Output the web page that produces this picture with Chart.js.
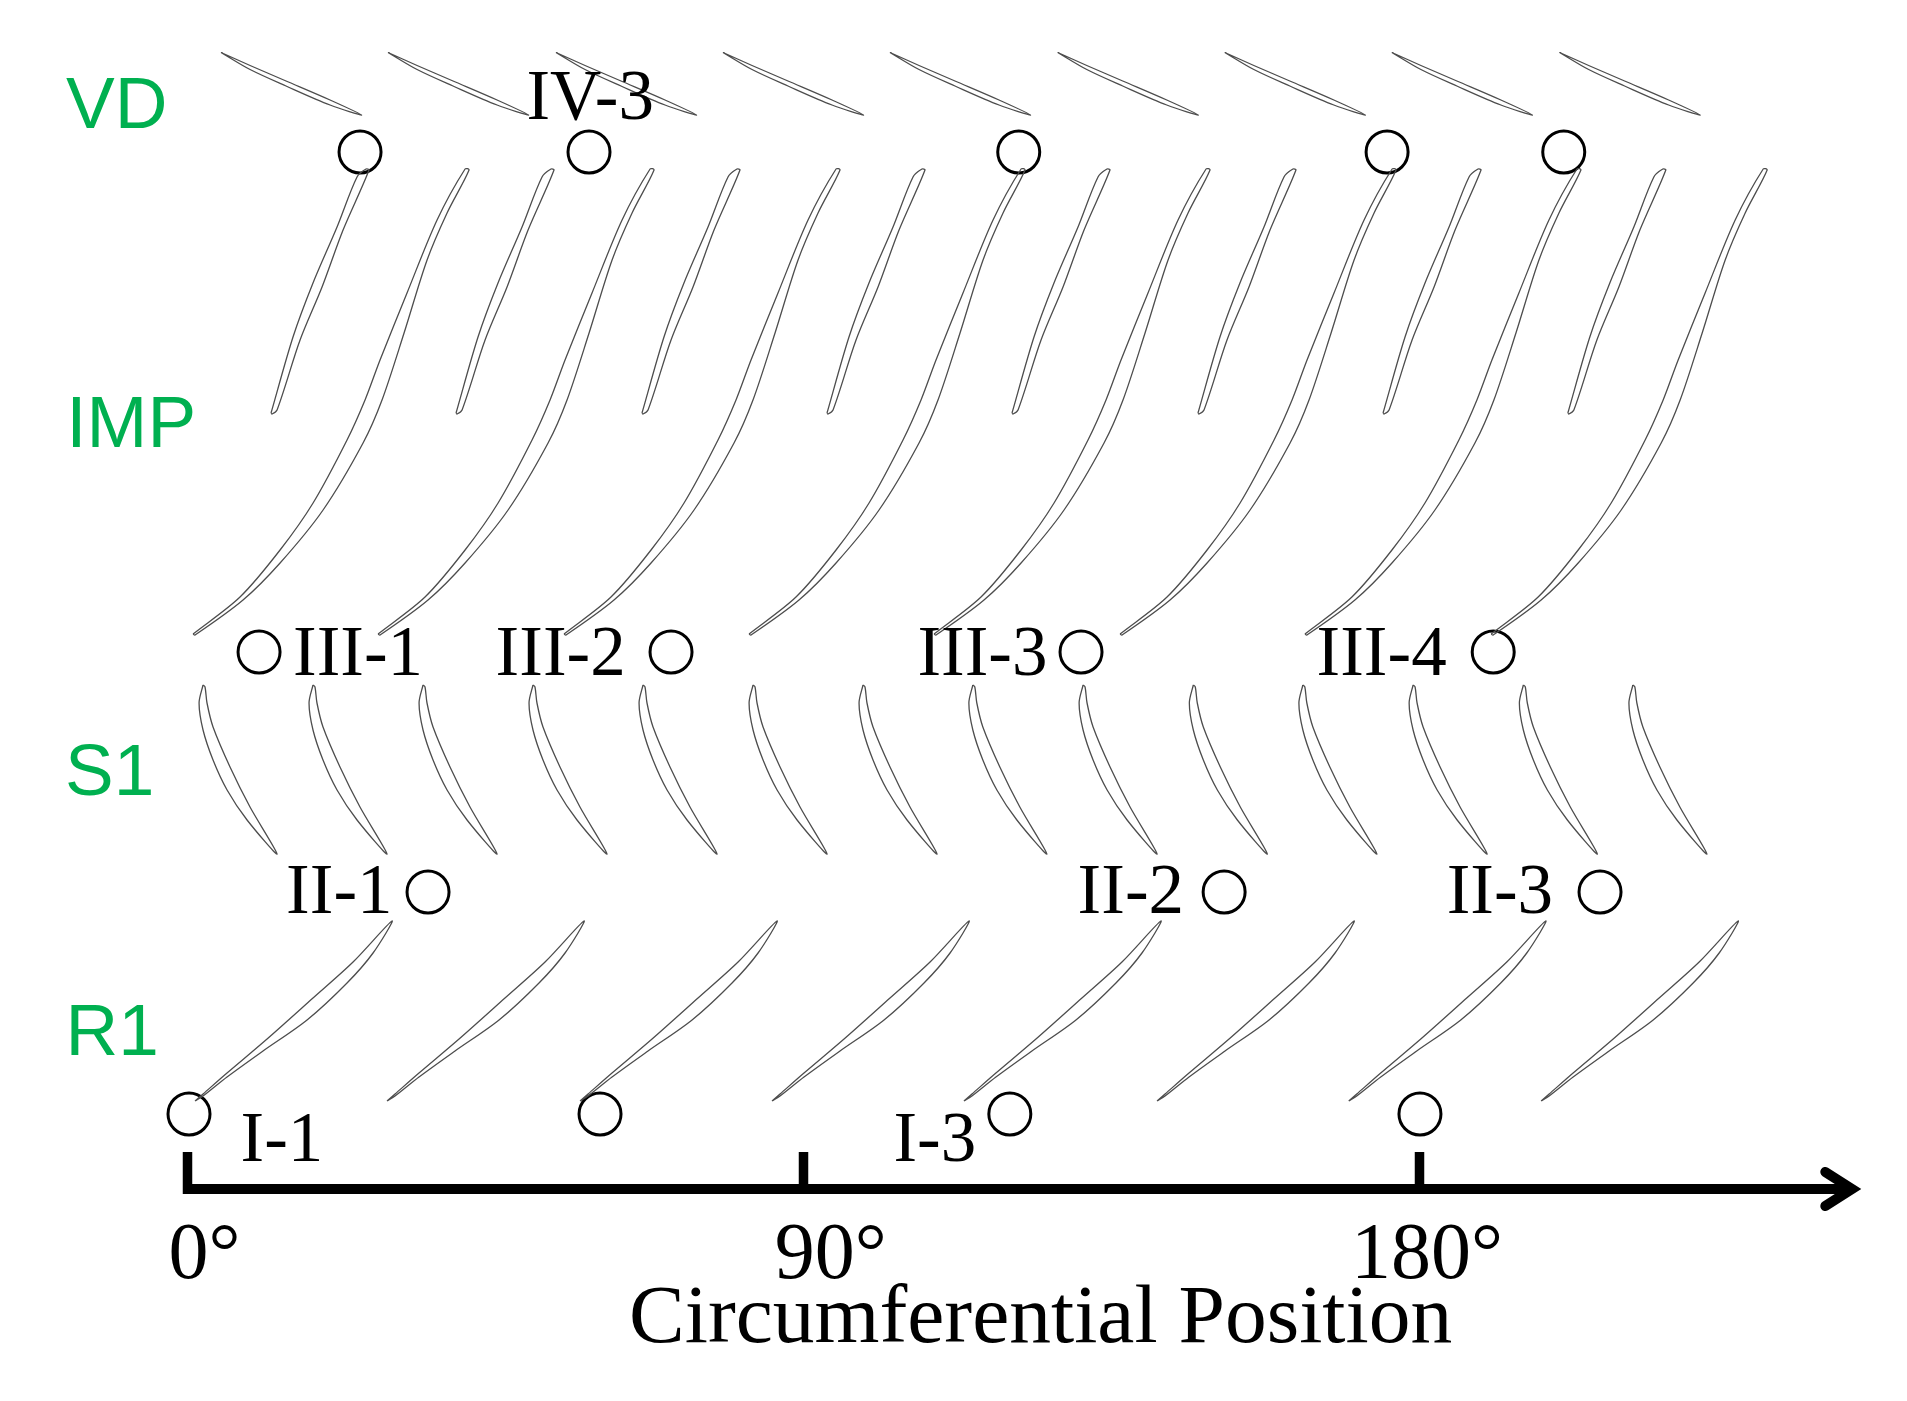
<!DOCTYPE html>
<html>
<head>
<meta charset="utf-8">
<title>Circumferential Position</title>
<script src="https://cdn.jsdelivr.net/npm/chart.js@4/dist/chart.umd.min.js"></script>
<style>
  html, body { margin: 0; padding: 0; background: #fff; }
  canvas { display: block; }
</style>
</head>
<body>
<canvas id="chart" width="1907" height="1401"></canvas>
<script>
// x is circumferential position in degrees, y is axial height above the axis
const xTickValues = [0, 90, 180];
const xTickLabels = ['0°', ' 90°', '180° '];

// stage names down the left side
const rowNames = ['VD', 'IMP', 'S1', 'R1'];
const rowNameX = [-17.75, -17.7, -17.9, -17.8];
const rowNameY = [1061, 742, 394, 134];

// blade outlines, relative to the first point of each blade
const vdShapeX = [0, 4.24, 9.49, 15.92, 20.53, 15.92, 9.49, 4.24, 0];
const vdShapeY = [0, -13, -28.5, -47.5, -62.5, -52.5, -33.5, -17, 0];
const impMainShapeX = [0, 6.86, 12.71, 17.53, 22.49, 25.12, 27.31, 31.25, 35.64, 39.73, 40.31, 37.10, 34.18, 30.82, 27.60, 24.83, 18.99, 12.71, 7.30, 0.29, 0];
const impMainShapeY = [0, 37, 84, 131, 194, 234, 274, 341, 414, 465, 464, 421, 374, 301, 234, 191, 124, 71, 34, -1, 0];
const impSplitShapeX = [0, 3.21, 6.13, 9.64, 12.56, 13.87, 14.31, 10.52, 7.45, 4.24, 0.88, 0.15, 0];
const impSplitShapeY = [0, 76, 130, 186, 236, 244, 243, 183, 126, 73, 3, -1, 0];
const s1ShapeX = [0, -0.58, 0, 1.46, 3.51, 6.43, 10.81, 6.86, 3.94, 1.46, 0.58, 0.29, 0];
const s1ShapeY = [0, -18, -45, -75, -105, -135, -169, -122, -82, -42, -18, -2, 0];
const r1ShapeX = [0, 1.17, 4.67, 10.52, 17.23, 23.08, 28.77, 26.0, 22.2, 16.36, 9.93, 4.67, 1.17, 0];
const r1ShapeY = [0, 7, 28, 62, 103, 139, 180, 148, 118, 81, 50, 24, 5, 0];

// where each blade starts
const vdBladeX = [4.90, 29.29, 53.82, 78.21, 102.6, 127.1, 151.5, 175.9, 200.4];
const vdBladeY = 1136.5;
const impMainBladeX = [0.81, 27.83, 54.99, 82.01, 109.03, 136.2, 163.2, 190.4];
const impMainBladeY = 555;
const impSplitBladeX = [12.2, 39.22, 66.38, 93.4, 120.42, 147.58, 174.61, 201.6];
const impSplitBladeY = 776;
const s1BladeX = [2.27, 18.33, 34.4, 50.46, 66.53, 82.6, 98.66, 114.7, 130.8, 146.9, 162.9, 179.0, 195.1, 211.1];
const s1BladeY = 504;
const r1BladeX = [1.1, 29.14, 57.33, 85.37, 113.4, 141.6, 169.6, 197.7];
const r1BladeY = 88;

// probe circles per row
const probesIVX = [25.2, 58.64, 121.4, 175.2, 201.0];
const probesIVY = [1037, 1037, 1037, 1037, 1037];
const probesIIIX = [10.45, 70.62, 130.5, 190.7];
const probesIIIY = [537, 537, 537, 537];
const probesIIX = [35.13, 151.4, 206.3];
const probesIIY = [297, 297, 297];
const probesIX = [0.22, 60.25, 120.1, 180];
const probesIY = [75, 75, 75, 75];

// probe names
const probeNames = ['IV-3', 'III-1', 'III-2', 'III-3', 'III-4', 'II-1', 'II-2', 'II-3', 'I-1', 'I-3'];
const probeNameX = [49.5, 15.41, 45.0, 106.6, 164.9, 14.4, 130.0, 183.9, 7.74, 103.1];
const probeNameY = [1070, 514, 514, 514, 514, 276, 276, 276, 28, 28];

// arrow head at the end of the axis
const arrowX = [239.2, 243.1, 239.2];
const arrowY = [17, 0, -17];

const datasets = [];

function addBlades(originsX, originY, shapeX, shapeY) {
    originsX.forEach(x0 => {
        datasets.push({
            data: shapeX.map((dx, i) => ({ x: x0 + dx, y: originY + shapeY[i] })),
            showLine: true,
            borderColor: '#4d4d4d',
            borderWidth: 1.3,
            pointRadius: 0,
            tension: 0.3,
            clip: false,
        });
    });
}

addBlades(vdBladeX, vdBladeY, vdShapeX, vdShapeY);
addBlades(impMainBladeX, impMainBladeY, impMainShapeX, impMainShapeY);
addBlades(impSplitBladeX, impSplitBladeY, impSplitShapeX, impSplitShapeY);
addBlades(s1BladeX, s1BladeY, s1ShapeX, s1ShapeY);
addBlades(r1BladeX, r1BladeY, r1ShapeX, r1ShapeY);

[[probesIVX, probesIVY], [probesIIIX, probesIIIY], [probesIIX, probesIIY], [probesIX, probesIY]].forEach(([xs, ys]) => {
    datasets.push({
        data: xs.map((x, i) => ({ x: x, y: ys[i] })),
        showLine: false,
        pointStyle: 'circle',
        pointRadius: 21,
        pointBorderWidth: 3,
        pointBorderColor: '#000',
        pointBackgroundColor: 'rgba(0,0,0,0)',
        clip: false,
    });
});

datasets.push({
    data: arrowX.map((x, i) => ({ x: x, y: arrowY[i] })),
    showLine: true,
    borderColor: '#000',
    borderWidth: 10,
    borderCapStyle: 'round',
    borderJoinStyle: 'miter',
    pointRadius: 0,
    clip: false,
});

// stage and probe names sit at data positions, so write them on after the datasets
const namesPlugin = {
    id: 'names',
    afterDatasetsDraw(chart) {
        const { ctx, scales } = chart;
        ctx.save();
        ctx.textAlign = 'left';
        ctx.textBaseline = 'alphabetic';
        ctx.font = '71px "Liberation Serif"';
        ctx.fillStyle = '#000';
        probeNames.forEach((name, i) => {
            ctx.fillText(name, scales.x.getPixelForValue(probeNameX[i]), scales.y.getPixelForValue(probeNameY[i]));
        });
        ctx.font = '73px "Liberation Sans"';
        ctx.fillStyle = '#00B050';
        rowNames.forEach((name, i) => {
            ctx.fillText(name, scales.x.getPixelForValue(rowNameX[i]), scales.y.getPixelForValue(rowNameY[i]));
        });
        ctx.restore();
    },
};

new Chart(document.getElementById('chart'), {
    type: 'scatter',
    data: { datasets: datasets },
    plugins: [namesPlugin],
    options: {
        responsive: false,
        animation: false,
        devicePixelRatio: 1,
        layout: { autoPadding: false, padding: { left: 0, right: 55, top: 0, bottom: 0 } },
        plugins: { legend: { display: false }, tooltip: { enabled: false } },
        scales: {
            x: {
                type: 'linear',
                min: 0,
                max: 243.1,
                afterBuildTicks: axis => { axis.ticks = xTickValues.map(v => ({ value: v })); },
                afterFit: axis => { axis.height = 212; },
                grid: { drawOnChartArea: false, drawTicks: true, tickLength: -37, tickWidth: 9.5, tickColor: '#000' },
                border: { display: true, color: '#000', width: 10 },
                ticks: {
                    autoSkip: false,
                    maxRotation: 0,
                    labelOffset: 17,
                    padding: 57,
                    color: '#000',
                    font: { family: '"Liberation Serif"', size: 80 },
                    callback: value => xTickLabels[xTickValues.indexOf(value)],
                },
                title: {
                    display: true,
                    text: '  Circumferential Position',
                    color: '#000',
                    font: { family: '"Liberation Serif"', size: 83.5 },
                    padding: { top: 0, bottom: 31 },
                },
            },
            y: {
                type: 'linear',
                min: 0,
                max: 1189,
                afterFit: axis => { axis.width = 187.5; },
                grid: { display: false },
                border: { display: false },
                ticks: { display: false },
            },
        },
    },
});
</script>
</body>
</html>
